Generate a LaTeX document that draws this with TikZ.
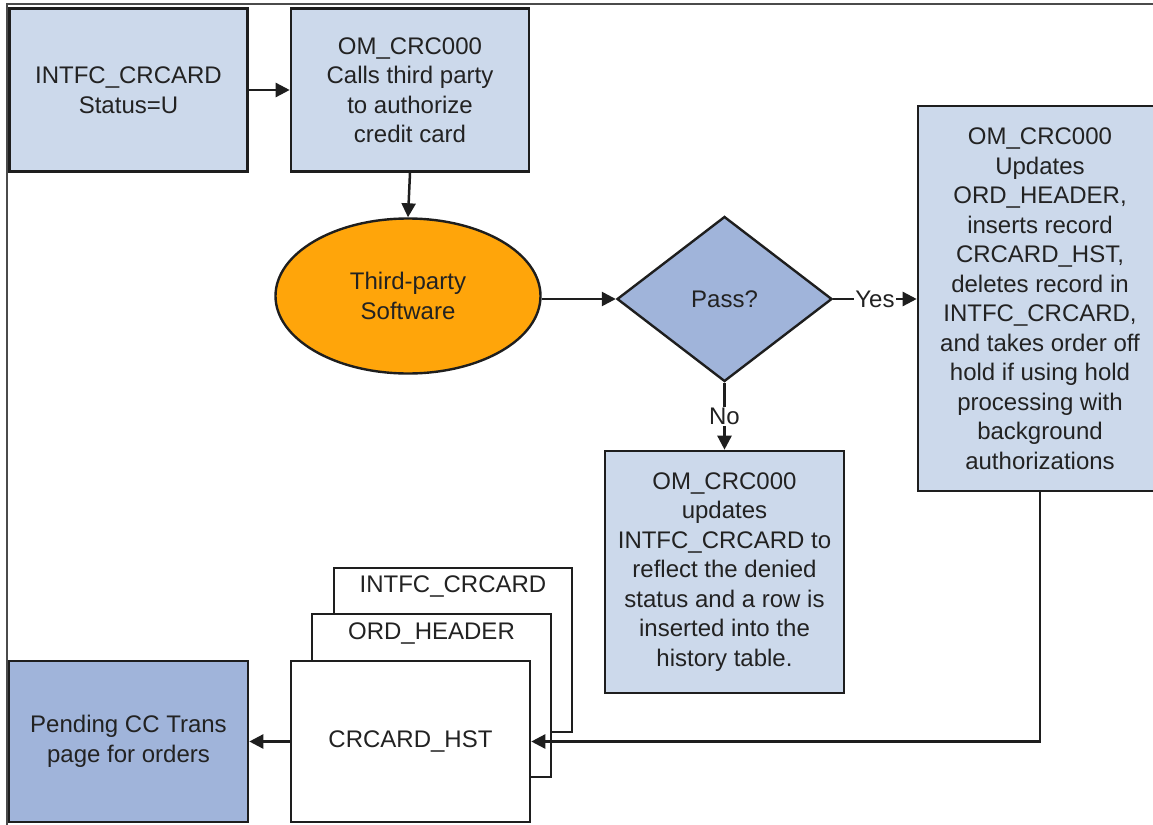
\documentclass[tikz,border=0pt]{standalone}
\usepackage{fontspec}
\setmainfont{Liberation Sans}
\usetikzlibrary{arrows.meta,shapes.geometric}
\definecolor{lightbox}{HTML}{CCD9EB}
\definecolor{darkbox}{HTML}{A0B4DA}
\definecolor{orangefill}{HTML}{FFA50A}
\definecolor{edge}{HTML}{1E1E1E}
\definecolor{txt}{HTML}{222222}
\begin{document}
\begin{tikzpicture}[x=1pt,y=-1pt,
  every node/.style={font=\fontsize{24}{29.5}\selectfont, text=txt},
  proc/.style={draw=edge, line width=2.6pt, rectangle, align=center, inner sep=0pt},
  light/.style={proc, fill=lightbox},
  dark/.style={proc, fill=darkbox},
  tbl/.style={proc, fill=white},
  arr/.style={draw=edge, line width=2.5pt, -{Triangle[length=14pt,width=14pt]}},
  lbl/.style={fill=white, inner sep=1pt}
]
\useasboundingbox (0,0) rectangle (1153,824);
\draw[draw=edge!80, line width=1.3pt] (7,830) -- (7,4) -- (1160,4);

\node[light, minimum width=238pt, minimum height=163pt] (b1) at (128.5,90) {INTFC\_CRCARD\\Status=U};
\node[light, minimum width=238pt, minimum height=163pt] (b2) at (410,90) {OM\_CRC000\\Calls third party\\to authorize\\credit card};
\node[ellipse, draw=edge, line width=2.4pt, fill=orangefill, minimum width=265pt, minimum height=155pt, inner sep=0pt, align=center] (ell) at (408,296) {Third-party\\Software};
\node[diamond, draw=edge, line width=2.4pt, fill=darkbox, minimum width=215pt, minimum height=165pt, inner sep=0pt] (dia) at (724.5,299) {Pass?};
\node[light, minimum width=244pt, minimum height=385pt] (rb) at (1040,298.5) {OM\_CRC000\\Updates\\ORD\_HEADER,\\inserts record\\CRCARD\_HST,\\deletes record in\\INTFC\_CRCARD,\\and takes order off\\hold if using hold\\processing with\\background\\authorizations};
\node[light, minimum width=239pt, minimum height=242pt] (den) at (724.5,572) {OM\_CRC000\\updates\\INTFC\_CRCARD to\\reflect the denied\\status and a row is\\inserted into the\\history table.};
\node[dark, minimum width=239pt, minimum height=161pt] (pend) at (128.5,741.5) {Pending CC Trans\\page for orders};

\node[tbl, minimum width=238pt, minimum height=164pt] (st3) at (453,650) {};
\node (t3) at (453,586) {INTFC\_CRCARD};
\node[tbl, minimum width=239pt, minimum height=163pt] (st2) at (431.5,695.5) {};
\node (t2) at (431.5,633) {ORD\_HEADER};
\node[tbl, minimum width=239pt, minimum height=161pt] (st1) at (410.5,741.5) {CRCARD\_HST};

\draw[arr] (b1.east) -- (b2.west);
\draw[arr] (b2.south) -- (ell.north);
\draw[arr] (ell.east |- dia.west) -- (dia.west);
\draw[arr] (dia.east) -- node[lbl] (yes) {Yes} (dia.east -| rb.west);
\draw[arr] (dia.south) -- node[lbl] (no) {No} (den.north);
\draw[arr] (rb.south) |- (st1.east);
\draw[arr] (st1.west) -- (pend.east);
\end{tikzpicture}
\end{document}
